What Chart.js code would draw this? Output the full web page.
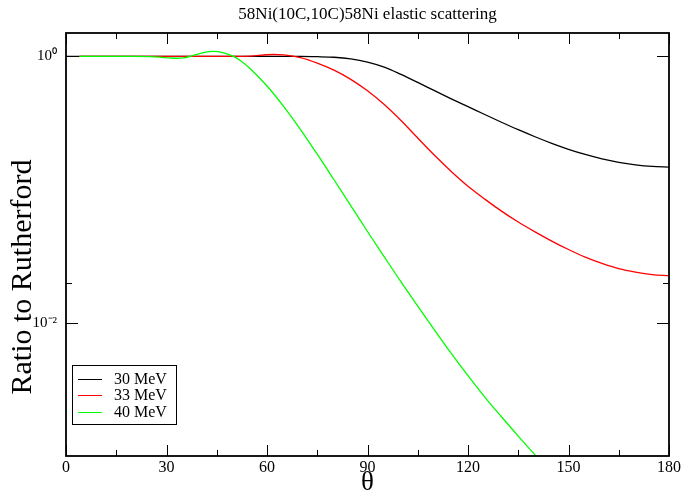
<!DOCTYPE html>
<html><head><meta charset="utf-8">
<script src="https://cdn.jsdelivr.net/npm/chart.js@4.4.0/dist/chart.umd.min.js"></script>
<style>html,body{margin:0;padding:0;background:#fff;} #wrap{width:684px;height:498px;}</style>
</head><body><div id="wrap"><canvas id="c" width="684" height="498"></canvas></div>
<script>
const chartTitle = '58Ni(10C,10C)58Ni elastic scattering';
const xTitle = 'θ';
const yTitle = 'Ratio to Rutherford';
const seriesLabels = ['30 MeV', '33 MeV', '40 MeV'];
const seriesColors = ['#000000', '#ff0000', '#00ff00'];
const xMajorTicks = [0, 30, 60, 90, 120, 150, 180];
const xMinorTicks = [15, 45, 75, 105, 135, 165];
const yMajorTicks = [0.01, 1];
const yMajorLabels = ['10⁻²', '10⁰'];
const yMinorTicks = [0.02];

const theta30 = [0,10,20,30,40,50,60,65,70,75,80,85,90,95,100,105,110,115,120,125,130,135,140,145,150,155,160,165,170,175,180];
const ratio30 = [1,1,1,1,1,1,1,1,1,0.9954,0.9863,0.9594,0.9078,0.8318,0.7328,0.6383,0.5534,0.4808,0.4198,0.3664,0.3206,0.2818,0.2495,0.2228,0.2009,0.1837,0.1702,0.1603,0.1535,0.1493,0.1476];

const theta33 = [4,10,20,30,40,45,50,55,60,62,65,70,75,80,85,90,95,100,105,110,115,120,125,130,135,140,145,150,155,160,165,170,175,180];
const ratio33 = [1,1,1,1,1,1,1,1.006,1.03,1.034,1.026,0.98,0.891,0.789,0.673,0.552,0.435,0.330,0.244,0.181,0.137,0.106,0.0849,0.0690,0.0571,0.0482,0.0411,0.0355,0.0311,0.0279,0.0255,0.0240,0.0230,0.0226];

const theta40 = [4,10,20,25,28,31,33,35,38,41,44,47,50,52,55,60,65,70,75,80,85,90,95,100,105,110,115,120,125,130,135,140,145];
const ratio40 = [1,1,1,0.997,0.988,0.974,0.969,0.974,1.02,1.07,1.09,1.065,1.0,0.933,0.809,0.600,0.420,0.2825,0.1845,0.1186,0.0759,0.0485,0.0313,0.0203,0.01337,0.00883,0.0059,0.00401,0.00277,0.00197,0.00141,0.00102,0.000746];

const FONT = 'Liberation Serif';
Chart.defaults.font.family = FONT;
Chart.defaults.color = '#000';

function pts(t, r) { return t.map((v, i) => ({x: v, y: r[i]})); }

const frameTicks = {
  id: 'frameTicks',
  afterDatasetsDraw(chart) {
    const {ctx, chartArea: a, scales: {x, y}} = chart;
    ctx.save();
    ctx.strokeStyle = '#000';
    ctx.lineWidth = 1;
    const seg = (x1, y1, x2, y2) => { ctx.beginPath(); ctx.moveTo(x1, y1); ctx.lineTo(x2, y2); ctx.stroke(); };
    xMajorTicks.forEach(v => { const p = Math.round(x.getPixelForValue(v)) + 0.5; seg(p, a.bottom, p, a.bottom - 11); seg(p, a.top, p, a.top + 11); });
    xMinorTicks.forEach(v => { const p = Math.round(x.getPixelForValue(v)) + 0.5; seg(p, a.bottom, p, a.bottom - 6); seg(p, a.top, p, a.top + 6); });
    yMajorTicks.forEach(v => { const p = Math.round(y.getPixelForValue(v)) + 0.5; seg(a.left, p, a.left + 12, p); seg(a.right, p, a.right - 12, p); });
    yMinorTicks.forEach(v => { const p = Math.round(y.getPixelForValue(v)) + 0.5; seg(a.left, p, a.left + 6, p); seg(a.right, p, a.right - 6, p); });
    ctx.lineWidth = 1.8;
    ctx.strokeRect(a.left, a.top, a.right - a.left, a.bottom - a.top);
    ctx.restore();
  }
};

const sideText = {
  id: 'sideText',
  afterDraw(chart) {
    const {ctx, chartArea: a} = chart;
    ctx.save();
    ctx.font = '30px "' + FONT + '"';
    ctx.fillStyle = '#000';
    ctx.textAlign = 'center';
    ctx.textBaseline = 'middle';
    ctx.translate(23, 277);
    ctx.rotate(-Math.PI / 2);
    ctx.fillText(yTitle, 0, 0);
    ctx.restore();
    ctx.save();
    const bx = a.left + 6, by = a.bottom - 91, bw = 104, bh = 59;
    ctx.fillStyle = '#fff';
    ctx.fillRect(bx, by, bw, bh);
    ctx.strokeStyle = '#000';
    ctx.lineWidth = 1;
    ctx.strokeRect(bx + 0.5, by + 0.5, bw, bh);
    ctx.font = '16px "' + FONT + '"';
    ctx.textAlign = 'left';
    ctx.textBaseline = 'middle';
    chart.data.datasets.forEach((ds, i) => {
      const ly = by + 13.5 + i * 16.5;
      ctx.strokeStyle = ds.borderColor;
      ctx.beginPath(); ctx.moveTo(bx + 6, Math.round(ly) + 0.5); ctx.lineTo(bx + 30, Math.round(ly) + 0.5); ctx.stroke();
      ctx.fillStyle = '#000';
      ctx.fillText(ds.label, bx + 42, ly + 1);
    });
    ctx.restore();
  }
};

new Chart(document.getElementById('c'), {
  type: 'line',
  data: {
    datasets: [
      {label: seriesLabels[0], data: pts(theta30, ratio30), borderColor: seriesColors[0], order: 2},
      {label: seriesLabels[1], data: pts(theta33, ratio33), borderColor: seriesColors[1], order: 1},
      {label: seriesLabels[2], data: pts(theta40, ratio40), borderColor: seriesColors[2], order: 0}
    ]
  },
  options: {
    responsive: false,
    animation: false,
    devicePixelRatio: 1,
    layout: {padding: {left: 0, right: 15, top: 0, bottom: 0}},
    elements: {
      line: {borderWidth: 1.3, fill: false, cubicInterpolationMode: 'monotone'},
      point: {radius: 0, hoverRadius: 0}
    },
    plugins: {
      legend: {display: false},
      tooltip: {enabled: false},
      title: {
        display: true, text: chartTitle, fullSize: false, color: '#000',
        font: {family: FONT, size: 17, weight: 'normal'},
        padding: {top: 4, bottom: 8.6}
      }
    },
    scales: {
      x: {
        type: 'linear', min: 0, max: 180,
        afterBuildTicks: s => { s.ticks = xMajorTicks.map(v => ({value: v})); },
        afterFit: s => { s.height = 42; },
        grid: {display: false, drawTicks: false},
        border: {display: false},
        ticks: {font: {family: FONT, size: 16}, color: '#000', padding: 2, maxRotation: 0, autoSkip: false},
        title: {display: true, text: xTitle, color: '#000', font: {family: FONT, size: 27}, padding: {top: 0, bottom: -1}}
      },
      y: {
        type: 'logarithmic', min: 0.001, max: 1.5,
        afterBuildTicks: s => { s.ticks = yMajorTicks.map(v => ({value: v})); },
        afterFit: s => { s.width = 66; },
        grid: {display: false, drawTicks: false},
        border: {display: false},
        ticks: {font: {family: FONT, size: 15}, color: '#000', padding: 9, autoSkip: false,
          callback: (v, i) => yMajorLabels[i]}
      }
    }
  },
  plugins: [frameTicks, sideText]
});
</script>
</body></html>
